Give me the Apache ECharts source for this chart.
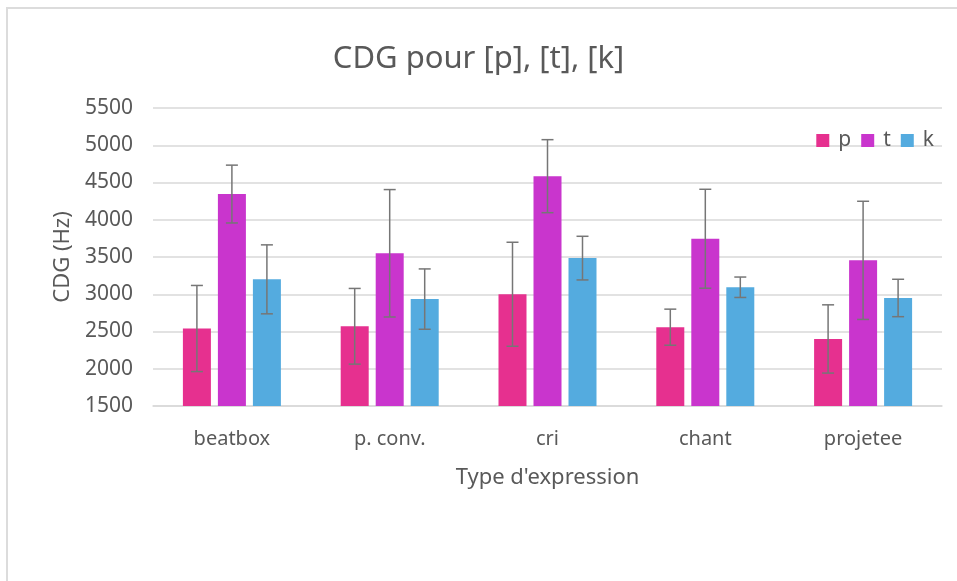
<!DOCTYPE html>
<html>
<head>
<meta charset="utf-8">
<script src="https://cdn.jsdelivr.net/npm/echarts@6/dist/echarts.min.js"></script>
<style>
  html, body { margin: 0; padding: 0; background: #fff; overflow: hidden; }
  #frame { position: absolute; left: 6px; top: 7px; width: 1000px; height: 1000px; border: 2px solid #dcdcdc; }
  #chart { position: absolute; left: 0; top: 0; width: 957px; height: 581px; }
</style>
</head>
<body>
<div id="frame"></div>
<div id="chart"></div>
<script>
const categories = ['beatbox', 'p. conv.', 'cri', 'chant', 'projetee']
const seriesNames = ['p', 't', 'k']
const pMeans = [2540, 2570, 3000, 2558, 2400]
const tMeans = [4345, 3550, 4585, 3745, 3455]
const kMeans = [3200, 2935, 3485, 3094, 2950]
const pErr = [578, 508, 698, 242, 458]
const tErr = [388, 855, 490, 664, 793]
const kErr = [463, 405, 293, 137, 251]
const yTicks = [1500, 2000, 2500, 3000, 3500, 4000, 4500, 5000, 5500]

const colors = ['#e6308f', '#c935cd', '#54abdf']
const textColor = '#595959'
const font = 'Noto Sans'
const barWidth = 28
const barStep = 35

const means = [pMeans, tMeans, kMeans]
const errs = [pErr, tErr, kErr]

const chart = echarts.init(document.getElementById('chart'))

const barSeries = seriesNames.map((name, i) => ({
  name,
  type: 'bar',
  barWidth,
  barGap: '25%',
  itemStyle: { color: colors[i] },
  data: means[i]
}))

// error bars (mean +/- err), drawn over each bar
const errorSeries = seriesNames.map((name, i) => ({
  type: 'custom',
  name: name + '_err',
  z: 10,
  silent: true,
  data: means[i].map((m, j) => [j, m - errs[i][j], m + errs[i][j]]),
  renderItem: (params, api) => {
    const lo = api.coord([api.value(0), api.value(1)])
    const hi = api.coord([api.value(0), api.value(2)])
    const x = lo[0] + (i - 1) * barStep
    const cap = 6
    const style = { stroke: '#767676', lineWidth: 1.5 }
    return {
      type: 'group',
      children: [
        { type: 'line', shape: { x1: x, y1: lo[1], x2: x, y2: hi[1] }, style },
        { type: 'line', shape: { x1: x - cap, y1: lo[1], x2: x + cap, y2: lo[1] }, style },
        { type: 'line', shape: { x1: x - cap, y1: hi[1], x2: x + cap, y2: hi[1] }, style }
      ]
    }
  }
}))

chart.setOption({
  animation: false,
  color: colors,
  title: {
    text: 'CDG pour [p], [t], [k]',
    left: 'center',
    top: 39,
    textStyle: { fontFamily: font, fontSize: 31, fontWeight: 'normal', color: textColor }
  },
  legend: {
    data: seriesNames,
    right: 18,
    top: 125,
    icon: 'rect',
    itemWidth: 13,
    itemHeight: 13,
    itemGap: 10,
    textStyle: { fontFamily: font, fontSize: 21, color: textColor, padding: [0, 0, 0, 4] }
  },
  grid: { left: 153, right: 15, top: 108, bottom: 175 },
  xAxis: {
    type: 'category',
    data: categories,
    name: "Type d'expression",
    nameLocation: 'middle',
    nameGap: 61,
    nameTextStyle: { fontFamily: font, fontSize: 22, color: textColor },
    axisLine: { lineStyle: { color: '#d9d9d9', width: 1.5 } },
    axisTick: { show: false },
    axisLabel: { fontFamily: font, fontSize: 20, color: textColor, margin: 23 }
  },
  yAxis: {
    type: 'value',
    min: yTicks[0],
    max: yTicks[yTicks.length - 1],
    interval: 500,
    name: 'CDG (Hz)',
    nameLocation: 'middle',
    nameGap: 79,
    nameTextStyle: { fontFamily: font, fontSize: 22, color: textColor },
    axisLine: { show: false },
    axisTick: { show: false },
    splitLine: { lineStyle: { color: '#d9d9d9', width: 1.5 } },
    axisLabel: { fontFamily: font, fontSize: 21, color: textColor, margin: 20, formatter: v => String(v) }
  },
  series: [...barSeries, ...errorSeries]
})
</script>
</body>
</html>
